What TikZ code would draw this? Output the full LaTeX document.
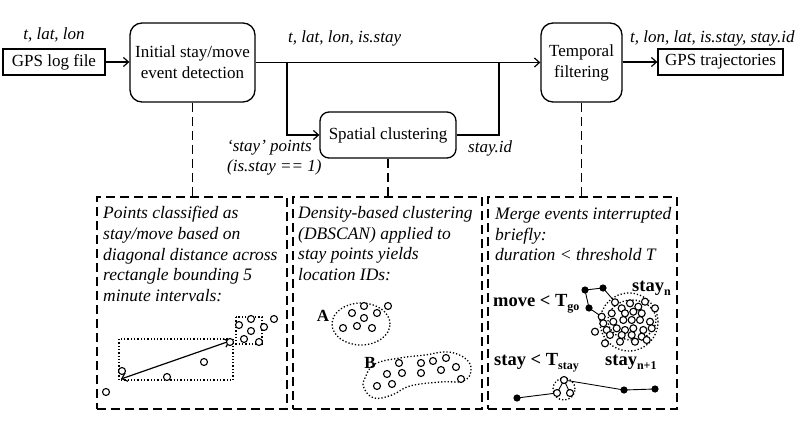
\documentclass[tikz,border=0pt]{standalone}
\usepackage{fontspec}
\setmainfont{Liberation Serif}
\usetikzlibrary{arrows.meta}
\begin{document}
\begin{tikzpicture}[x=1pt,y=-1pt,
  every node/.style={font=\fontsize{17}{21}\selectfont},
  sqbox/.style={draw,line width=1.3pt,inner sep=0pt,minimum height=26pt},
  rbox/.style={draw,line width=1.3pt,rounded corners=12pt,inner sep=0pt,align=center},
  arr/.style={line width=1.2pt,-{Straight Barb[length=5pt,width=9pt]}},
  darr/.style={line width=1.2pt,{Straight Barb[length=5pt,width=9pt]}-{Straight Barb[length=5pt,width=9pt]}},
  conn/.style={line width=1.2pt},
  dline/.style={line width=1.4pt,dash pattern=on 9pt off 5pt},
  dbox/.style={draw,line width=1.4pt,dash pattern=on 9pt off 5pt,inner sep=0pt},
  lbl/.style={font=\fontsize{17}{21}\selectfont\itshape,inner sep=0pt},
  desc/.style={font=\fontsize{17.5}{20.8}\selectfont\itshape,inner sep=0pt,align=left,anchor=north west},
  bl/.style={font=\fontsize{18.5}{20}\selectfont\bfseries,inner sep=0pt,anchor=base west},
  pt/.style={line width=1.1pt,fill=white},
  dotb/.style={fill=black},
  thin/.style={line width=0.9pt},
  dots/.style={line width=1.3pt,dotted}
]
\useasboundingbox (0,0) rectangle (800,433);

% main boxes
\node[sqbox,minimum width=102pt] (gps) at (54,62) {GPS log file};
\node[rbox,minimum width=125pt,minimum height=79pt] (init) at (192.5,62.5) {Initial stay/move\\event detection};
\node[rbox,minimum width=81pt,minimum height=79pt] (temp) at (581.5,62.5) {Temporal\\filtering};
\node[rbox,rounded corners=9pt,minimum width=136pt,minimum height=46pt] (spat) at (388,135) {Spatial clustering};
\node[sqbox,minimum width=125pt] (traj) at (720.5,62) {GPS trajectories};

% labels
\node[lbl,anchor=base] (l1) at (54,40) {t, lat, lon};
\node[lbl,anchor=base west] (l2) at (288,42.5) {t, lat, lon, is.stay};
\node[lbl,anchor=base west] (l3) at (630,42.5) {t, lon, lat, is.stay, stay.id};
\node[lbl,anchor=base west] (l4) at (227,151) {‘stay’ points};
\node[lbl,anchor=base west] (l5) at (227,171.5) {(is.stay == 1)};
\node[lbl,anchor=base west] (l6) at (468,152) {stay.id};

% connectors
\coordinate (b1) at (287,0);
\coordinate (b2) at (499,0);
\draw[arr] (gps.east) -- (init.west |- gps.east);
\draw[arr] (init.east) -- (temp.west);
\draw[arr] (b1 |- init.east) |- (spat.west);
\draw[conn] (spat.east) -| (b2 |- init.east);
\draw[arr] (temp.east |- traj.west) -- (traj.west);

% dashed boxes
\node[dbox,minimum width=190pt,minimum height=212pt] (d1) at (192,303) {};
\node[dbox,minimum width=189pt,minimum height=212pt] (d2) at (387.5,303) {};
\node[dbox,minimum width=189pt,minimum height=212pt] (d3) at (582.5,303) {};
\draw[dline] (init.south) -- (init.south |- d1.north);
\draw[dline] (spat.south) -- (spat.south |- d2.north);
\draw[dline] (temp.south) -- (temp.south |- d3.north);

% descriptions
\node[desc] (t1) at (103,206) {Points classified as\\stay/move based on\\diagonal distance across\\rectangle bounding 5\\minute intervals:};
\node[desc] (t2) at (298,206) {Density-based clustering\\(DBSCAN) applied to\\stay points yields\\location IDs:};
\node[desc] (t3) at (495,207) {Merge events interrupted\\briefly:\\duration < threshold T};

% box 1 figure
\draw[dots] (119,339) rectangle (233,380);
\draw[dots] (236,317) rectangle (262,344);
\draw[darr] (121,379) -- (230,341);
\foreach \p in {(122,371),(167,377),(204,362),(230,342),(239,325),(251,319),(264,327),(274,319),(251,331),(244,339),(259,342),(106,392)}
  \draw[pt] \p circle[radius=3.5pt];

% box 2 figure
\draw[dots] (361,324) ellipse[x radius=29pt,y radius=21pt];
\draw[dots] plot[smooth cycle,tension=0.7] coordinates {(365,378) (375,364) (400,358) (425,355) (448,352) (466,359) (471,371) (463,381) (440,382) (410,386) (392,395) (374,398) (364,388)};
\foreach \p in {(364,306),(352,313),(364,318),(377,313),(343,328),(357,326),(372,328),(388,306),
  (399,363),(421,363),(433,361),(446,358),(387,374),(402,373),(421,373),(441,370),(456,367),(377,386),(392,384),(461,379)}
  \draw[pt] \p circle[radius=3.5pt];
\node[bl,anchor=base,font=\fontsize{17}{20}\selectfont\bfseries] (A) at (323,321) {A};
\node[bl,anchor=base,font=\fontsize{17}{20}\selectfont\bfseries] (B) at (370,368) {B};

% box 3 figure
\draw[dots] (629,322) ellipse[x radius=29pt,y radius=29pt];
\draw[dots] (632,320) ellipse[x radius=24pt,y radius=20pt];
\draw[thin] (585,290) -- (603,288) -- (615,302);
\draw[thin] (585,290) -- (589,308) -- (601.7,316.7);
\foreach \p in {(615,302.3),(630,303.3),(645,301.7),(621.7,308.3),(638.3,306.7),(601.7,316.7),(611.7,313.3),(625,313.3),(633.3,311.7),(641.7,313.3),(655,308.3),(603.3,323.3),(613.3,321.7),(623.3,320),(631.7,320),(640,320),(650,321.7),(595,331.7),(606.7,330),(616.7,328.3),(625,330),(633.3,328.3),(643.3,330),(651.7,328.3),(610,335),(621.7,335),(631.7,335),(641.7,336.7),(605,343.3),(620,341.7),(635,341.7),(646.7,340)}
  \draw[pt] \p circle[radius=3.5pt];
\foreach \p in {(585,290),(603,288),(589,308)}
  \fill[dotb] \p circle[radius=3.6pt];

\draw[dots] (564,389) circle[radius=11pt];
\draw[thin] (517,398) -- (557,393) -- (564,380) -- (570,393);
\draw[thin] (564,380) -- (624,390) -- (655,389);
\foreach \p in {(564,380),(557,393),(570,393)}
  \draw[pt] \p circle[radius=3.5pt];
\foreach \p in {(517,398),(624,390),(655,389)}
  \fill[dotb] \p circle[radius=3.6pt];

\node[bl] (mv) at (493,306) {move < T\raisebox{-4pt}{\fontsize{12}{12}\selectfont go}};
\node[bl] (sn) at (632,291) {stay\raisebox{-4pt}{\fontsize{12}{12}\selectfont n}};
\node[bl] (st) at (494,365) {stay < T\raisebox{-4pt}{\fontsize{12}{12}\selectfont stay}};
\node[bl] (sn1) at (605,365) {stay\raisebox{-4pt}{\fontsize{12}{12}\selectfont n+1}};
\end{tikzpicture}
\end{document}
